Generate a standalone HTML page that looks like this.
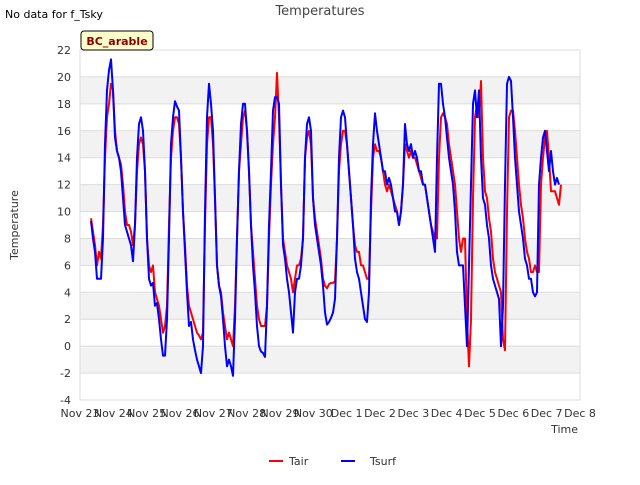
<!DOCTYPE html>
<html><head><meta charset="utf-8"><style>
body{margin:0;background:#fff;font-family:"Liberation Sans","DejaVu Sans",sans-serif;}
svg text{font-family:"DejaVu Sans","Liberation Sans",sans-serif;}
</style></head><body>
<svg id="chart" width="640" height="480">
<text x="5" y="18" font-size="11" fill="#000">No data for f_Tsky</text>
<text x="320" y="15" font-size="13" fill="#444" text-anchor="middle">Temperatures</text>
<g id="plot"></g>
<rect x="81" y="31" width="72" height="19" rx="3" fill="#ffffcc" stroke="#000" stroke-width="1"/>
<text x="117" y="45" font-size="11" font-weight="bold" fill="#8b0000" text-anchor="middle">BC_arable</text>
<text x="18" y="225" font-size="11" fill="#333" text-anchor="middle" transform="rotate(-90 18 225)">Temperature</text>
<text x="578" y="433" font-size="11" fill="#333" text-anchor="end">Time</text>
<g>
<g><line x1="269" y1="461" x2="283" y2="461" stroke="#ff0000" stroke-width="2"/><text x="289" y="465" font-size="11" fill="#333">Tair</text></g>
<g><line x1="341" y1="461" x2="355" y2="461" stroke="#0000ff" stroke-width="2"/><text x="370" y="465" font-size="11" fill="#333">Tsurf</text></g>
</g>
</svg>
<script>
const xTickLabels=["Nov 23","Nov 24","Nov 25","Nov 26","Nov 27","Nov 28","Nov 29","Nov 30","Dec 1","Dec 2","Dec 3","Dec 4","Dec 5","Dec 6","Dec 7","Dec 8"];
const yTicks=[-4,-2,0,2,4,6,8,10,12,14,16,18,20,22];
const startDay=0.33, stepDay=0.06;
const tsurf=[9.3,8,7,5,5,5,8,15,19,20.5,21.3,19,15.5,14.5,14,13,11,9,8.5,8,7.5,6.3,
9,14,16.5,17,16,13,8,5,4.5,4.7,3,3.2,2,0.5,-0.7,-0.7,2,8,15,17,18.2,17.8,17.5,14,10,7,4,1.5,1.8,0.5,-0.3,-1,-1.5,-2,0,10,17,19.5,18,16,11,6,4.5,3.7,2,0,-1.5,-1,-1.5,-2.2,
2,8,13,16.5,18,18,16,13,9,6,4,1.5,0,-0.4,-0.5,-0.8,3,9,13,17.5,18.5,18.5,18,12,
7.5,6.5,5,4,2.5,1,4,5,5,6,8,14,16.5,17,16,11,9,8,7,6,4.5,2.5,1.6,1.8,2.1,2.5,3.5,8,14,17,17.5,17,15,13,11,9,6.5,5.5,5,4,3,2,1.8,
4,11,15,17.3,16,15,14,13,13,12,12.5,12,11,10,10,9,10,12,16.5,15,14.5,15,14,14.5,14,13,13,12,12,11,10,9,8,7,14,19.5,19.5,18,17,15.5,14,13,12,10,7,6,6,6,3,0,6,12,18,19,17,19,14,11,10.5,9,8,6,5,4.5,4,3.5,0,3,12,19.5,20,19.7,17,14,12,10,9,8,6.5,6,5,5,4,3.7,4,12,14,15.5,16,14.5,13,14.5,13,12,12.5,12];
const tair=[9.5,8.5,7.5,6,7,6.5,9,14,17,18,19.5,19,16,14.5,14,13.5,12,10,9,9,8.5,7.5,
9,13,15,15.5,15,13,8,6,5.5,6,4,3.5,3,2,1,1.5,3,9,14,16,17,17,16.5,14,10,7.5,4.5,3,2.5,2,1.5,1,0.8,0.5,1,9,15,17,17,15,11,6,4.5,4,2.5,1.5,0.5,1,0.5,0,
3,8,13,15,17,17.5,16,13,9,7,5,3,2,1.5,1.5,1.5,3,8,12,15,17,20.3,17,12,
8,7,6,5.5,5,4,5,6,6,6.5,8,14,15.5,16,15,11,9.5,8.5,7.5,6.5,5,4.5,4.3,4.6,4.7,4.7,4.8,8,13,15,16,16,15,13,11,9,7.5,7,7,6,6,5.5,5,
5,10,14,15,14.5,14.5,14,13,12,11.5,12,11.5,11,10.5,10,9,10,12,15,14.5,14,14.5,14,14,13.5,13,12.5,12,12,11,10,9,8.5,8,8,14,17,17.3,17,16.5,15,14,13,12,10,8,7,8,8,2,-1.5,2,11,17,18,17,19.7,14,11.5,11,9.5,8.5,6.5,5.5,5,4.5,4,0.5,-0.3,10,17,17.5,17.5,16,14,12,10.5,9.5,8,7,6.5,5.5,5.5,6,5.5,5.5,12,14,15.5,16,14,11.5,11.5,11.5,11,10.5,12];

const L=80,R=580,T=50,B=400,yMin=-4,yMax=22,dMax=15;
const xs=d=>L+(R-L)*d/dMax;
const ys=v=>B-(B-T)*(v-yMin)/(yMax-yMin);
const NS="http://www.w3.org/2000/svg";
const g=document.getElementById('plot');
function mk(tag,attrs){const e=document.createElementNS(NS,tag);for(const k in attrs)e.setAttribute(k,attrs[k]);g.appendChild(e);return e;}
// bands
for(let v=-2;v<22;v+=4){
 const b=mk('rect',{x:L,y:ys(v+2),width:R-L,height:ys(v)-ys(v+2),fill:'#f2f2f2'});
 
 
}
yTicks.forEach(v=>{
 const l=mk('line',{x1:L,x2:R,y1:ys(v),y2:ys(v),stroke:'#dcdcdc','stroke-width':1});
 
 
 const t=mk('text',{x:L-9,y:ys(v)+4,'font-size':11,fill:'#333','text-anchor':'end'});
 t.textContent=v;
 
 
});
const frame=mk('rect',{x:L,y:T,width:R-L,height:B-T,fill:'none',stroke:'#dcdcdc'});


xTickLabels.forEach((s,i)=>{
 const t=mk('text',{x:xs(i),y:B+17,'font-size':11,fill:'#333','text-anchor':'middle'});
 t.textContent=s;
 
 
});
function line(arr,color,name){
 const pts=arr.map((v,i)=>xs(startDay+i*stepDay).toFixed(1)+','+ys(v).toFixed(1)).join(' ');
 const p=mk('polyline',{points:pts,fill:'none',stroke:color,'stroke-width':2,'stroke-linejoin':'round'});
 
 
}
line(tair,'#ff0000','tair-line');
line(tsurf,'#0000ff','tsurf-line');
</script>
</body></html>
